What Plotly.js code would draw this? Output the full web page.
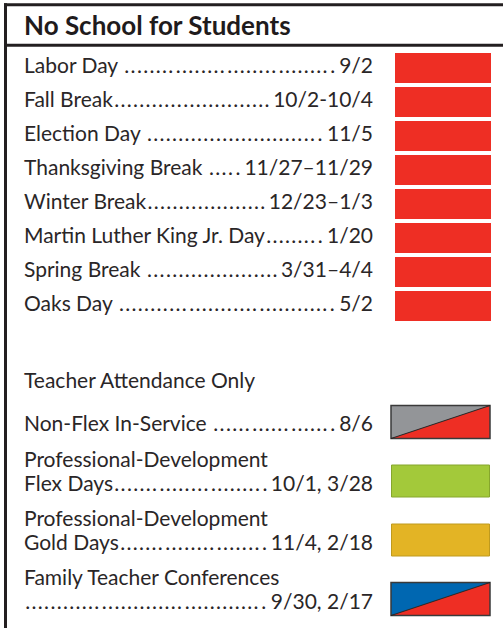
<!DOCTYPE html>
<html><head><meta charset="utf-8">
<script src="https://cdn.plot.ly/plotly-3.0.1.min.js"></script>
<style>html,body{margin:0;padding:0;background:#fff;overflow:hidden}#chart{width:503px;height:628px}</style>
</head><body><div id="chart"></div>
<script>
// ---- data ----
const headerTitle = "No School for Students";
const noSchoolEvents = ["Labor Day ", "Fall Break", "Election Day ", "Thanksgiving Break ", "Winter Break", "Martin Luther King Jr. Day", "Spring Break ", "Oaks Day "];
const noSchoolDates = ["9/2", "10/2-10/4", "11/5", "11/27–11/29", "12/23–1/3", "1/20", "3/31–4/4", "5/2"];
const noSchoolColors = ["#ee2e24", "#ee2e24", "#ee2e24", "#ee2e24", "#ee2e24", "#ee2e24", "#ee2e24", "#ee2e24"];
const teacherHeading = "Teacher Attendance Only";
const teacherEventLines = [["Non-Flex In-Service "], ["Professional-Development", "Flex Days"], ["Professional-Development", "Gold Days"], ["Family Teacher Conferences", ""]];
const teacherDates = ["8/6", "10/1, 3/28", "11/4, 2/18", "9/30, 2/17"];
const teacherColorsA = ["#939598", "#a3c93a", "#e3b425", "#0067b1"];
const teacherColorsB = ["#ee2e24", null, null, "#ee2e24"];
const teacherEdgeColors = ["#3a3a3a", "#86a62c", "#bf9a1e", "#3a3a3a"];

// ---- layout constants ----
const W = 503, H = 628;
const FONT = "Lato", FS = 21, TXT = "#2a2627";
const textLeft = 24, textRight = 373;
const row0 = 68, rowStep = 34, boxH = 30, box1X0 = 395, box1X1 = 491;
const headingY = 383;
const tRow0 = 422, tStep = 59, tBoxH = 33, box2X0 = 391, box2X1 = 490;
const line1Off = -19, line2Off = 5, singleOff = 4;
const DOT_PITCH = 6.4;

// text measurement (temporary SVG, removed afterwards)
const NS = "http://www.w3.org/2000/svg";
const msvg = document.createElementNS(NS, 'svg');
msvg.setAttribute('width', '400'); msvg.setAttribute('height', '40');
msvg.style.position = 'absolute'; msvg.style.left = '0'; msvg.style.top = '0'; msvg.style.visibility = 'hidden';
const mt = document.createElementNS(NS, 'text');
mt.setAttribute('x', '0'); mt.setAttribute('y', '20');
mt.setAttribute('font-family', FONT);
mt.setAttribute('font-size', FS + 'px');
mt.setAttribute('style', 'white-space:pre');
msvg.appendChild(mt); document.body.appendChild(msvg);
const tw = s => { mt.textContent = s; return mt.getComputedTextLength(); };
const HS = "\u200A";
const dotW = tw("."), hsW = Math.max(0.3, tw("a" + HS + "a") - tw("aa"));
function leader(label, date) {
  const A = textRight - textLeft - 3 - tw(label) - tw(date);
  if (A <= 0) return label;
  let n = Math.max(1, Math.round(A / DOT_PITCH));
  if (n * dotW > A) n = Math.floor(A / dotW);
  const k = Math.floor((A - n * dotW) / hsW);
  let s = label;
  for (let j = 0; j < n; j++) {
    const g = Math.floor(k * (j + 1) / n) - Math.floor(k * j / n);
    if (j > 0 || /\s$/.test(label)) s += HS.repeat(g);
    else s += HS.repeat(Math.min(g, 1));
    s += ".";
  }
  return s;
}

// ---- text rows ----
const lx = [], ly = [], lt = [], dx = [], dy = [], dt = [];
noSchoolEvents.forEach((ev, i) => {
  const y = row0 + i * rowStep;
  lx.push(textLeft); ly.push(y); lt.push(leader(ev, noSchoolDates[i]));
  dx.push(textRight); dy.push(y); dt.push(noSchoolDates[i]);
});
lx.push(textLeft); ly.push(headingY); lt.push(teacherHeading);
const tCenters = teacherEventLines.map((_, i) => tRow0 + i * tStep);
teacherEventLines.forEach((lines, i) => {
  const c = tCenters[i];
  if (lines.length === 1) {
    lx.push(textLeft); ly.push(c + singleOff); lt.push(leader(lines[0], teacherDates[i]));
    dx.push(textRight); dy.push(c + singleOff); dt.push(teacherDates[i]);
  } else {
    lx.push(textLeft); ly.push(c + line1Off); lt.push(lines[0]);
    lx.push(textLeft); ly.push(c + line2Off); lt.push(leader(lines[1], teacherDates[i]));
    dx.push(textRight); dy.push(c + line2Off); dt.push(teacherDates[i]);
  }
});
msvg.remove();

const font = {family: FONT, size: FS, color: TXT};
const traces = [];
traces.push({type: 'scatter', mode: 'text', x: lx, y: ly, text: lt, textposition: 'middle right', textfont: font, hoverinfo: 'skip', cliponaxis: false});
traces.push({type: 'scatter', mode: 'text', x: dx, y: dy, text: dt, textposition: 'middle left', textfont: font, hoverinfo: 'skip', cliponaxis: false});
traces.push({type: 'scatter', mode: 'text', x: [textLeft], y: [28.5], text: [headerTitle], textposition: 'middle right',
  textfont: {family: FONT, size: 26, color: '#1f1b1c', weight: 'bold'}, hoverinfo: 'skip', cliponaxis: false});

// red swatches
traces.push({type: 'bar', orientation: 'h', y: noSchoolEvents.map((_, i) => row0 + i * rowStep),
  x: noSchoolEvents.map(() => box1X1 - box1X0), base: box1X0, width: boxH,
  marker: {color: noSchoolColors, line: {width: 0}}, hoverinfo: 'skip'});

// teacher solid swatches
const solidIdx = teacherColorsB.map((c, i) => c === null ? i : -1).filter(i => i >= 0);
traces.push({type: 'bar', orientation: 'h', y: solidIdx.map(i => tCenters[i]),
  x: solidIdx.map(() => box2X1 - box2X0 - 1), base: box2X0 + 0.5, width: tBoxH - 1,
  marker: {color: solidIdx.map(i => teacherColorsA[i]), line: {width: 1, color: solidIdx.map(i => teacherEdgeColors[i])}}, hoverinfo: 'skip'});

// teacher split swatches
teacherColorsB.forEach((cb, i) => {
  if (cb === null) return;
  const c = tCenters[i], t = c - tBoxH / 2, b = c + tBoxH / 2;
  traces.push({type: 'scatter', mode: 'lines', x: [box2X0, box2X1, box2X0, box2X0], y: [t, t, b, t], fill: 'toself',
    fillcolor: teacherColorsA[i], line: {width: 0}, hoverinfo: 'skip'});
  traces.push({type: 'scatter', mode: 'lines', x: [box2X1, box2X1, box2X0, box2X1], y: [t, b, b, t], fill: 'toself',
    fillcolor: cb, line: {width: 0}, hoverinfo: 'skip'});
  traces.push({type: 'scatter', mode: 'lines', x: [box2X0, box2X1, box2X1, box2X0, box2X0, box2X1], y: [t, t, b, b, t, t],
    line: {width: 1.5, color: teacherEdgeColors[i]}, hoverinfo: 'skip'});
  traces.push({type: 'scatter', mode: 'lines', x: [box2X0, box2X1], y: [b, t],
    line: {width: 1, color: '#222'}, hoverinfo: 'skip'});
});

const border = '#231f20';
const layout = {
  width: W, height: H, margin: {l: 0, r: 0, t: 0, b: 0, pad: 0},
  paper_bgcolor: '#fff', plot_bgcolor: '#fff', showlegend: false,
  xaxis: {range: [0, W], visible: false, fixedrange: true},
  yaxis: {range: [H, 0], visible: false, fixedrange: true},
  shapes: [
    {type: 'line', xref: 'x', yref: 'y', x0: 4, x1: W, y0: 4.7, y1: 4.7, line: {color: border, width: 3}},
    {type: 'line', xref: 'x', yref: 'y', x0: 4, x1: W, y0: 45.3, y1: 45.3, line: {color: border, width: 3}},
    {type: 'line', xref: 'x', yref: 'y', x0: 5.5, x1: 5.5, y0: 3.2, y1: H, line: {color: border, width: 3}}
  ]
};
Plotly.newPlot('chart', traces, layout, {staticPlot: true, displayModeBar: false});
</script></body></html>
